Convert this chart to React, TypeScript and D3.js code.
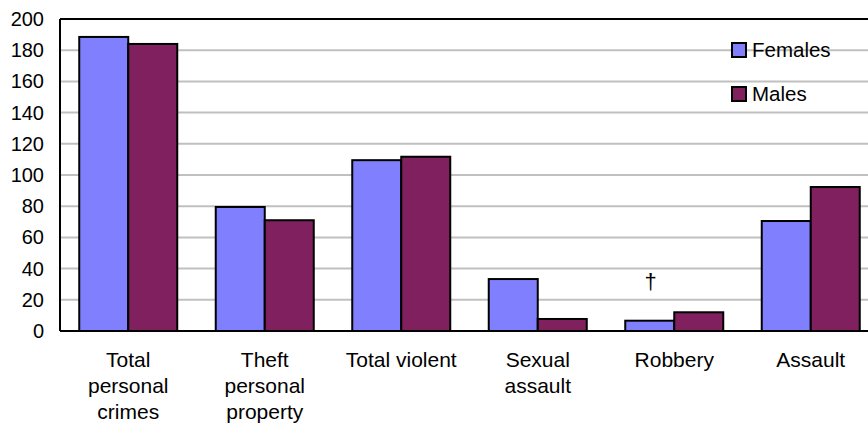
import { useEffect, useRef } from 'react';
import * as d3 from 'd3';

const categories = [
  ['Total', 'personal', 'crimes'],
  ['Theft', 'personal', 'property'],
  ['Total violent'],
  ['Sexual', 'assault'],
  ['Robbery'],
  ['Assault'],
];
const females = [188.5, 79.5, 109.5, 33.3, 6.6, 70.5];
const males = [184, 71, 111.7, 7.7, 12, 92.3];
const seriesNames = ['Females', 'Males'];
const colors = ['#8080FF', '#80205F'];
const yTicks = [0, 20, 40, 60, 80, 100, 120, 140, 160, 180, 200];

export default function App() {
  const svgRef = useRef<SVGSVGElement>(null);

  useEffect(() => {
    if (!svgRef.current) return;
    const svg = d3.select(svgRef.current);
    svg.selectAll('*').remove();

    const left = 60, top = 19, bottom = 331, right = 879;
    const font = 'Liberation Sans, Arial, Helvetica, sans-serif';

    const x = d3.scaleBand<number>()
      .domain(d3.range(categories.length))
      .range([left, right])
      .paddingInner(0.282)
      .paddingOuter(0.141);
    const y = d3.scaleLinear().domain([0, 200]).range([bottom, top]);

    // gridlines
    svg.append('g')
      .selectAll('line')
      .data(yTicks.filter(t => t > 0 && t < 200))
      .join('line')
      .attr('x1', left).attr('x2', 868)
      .attr('y1', d => y(d)).attr('y2', d => y(d))
      .attr('stroke', '#c0c0c0')
      .attr('stroke-width', 2);

    // bars
    const groups = svg.append('g')
      .selectAll('g')
      .data(categories.map((_, i) => i))
      .join('g');
    const bw = x.bandwidth() / 2;
    [females, males].forEach((vals, s) => {
      groups.append('rect')
        .attr('x', i => (x(i) as number) + s * bw)
        .attr('y', i => y(vals[i]))
        .attr('width', bw)
        .attr('height', i => y(0) - y(vals[i]))
        .attr('fill', colors[s])
        .attr('stroke', '#000')
        .attr('stroke-width', 2);
    });

    // plot frame
    svg.append('line').attr('x1', left).attr('x2', 868).attr('y1', top).attr('y2', top)
      .attr('stroke', '#000').attr('stroke-width', 2);
    svg.append('line').attr('x1', left).attr('x2', left).attr('y1', top).attr('y2', bottom)
      .attr('stroke', '#000').attr('stroke-width', 2);
    svg.append('line').attr('x1', left).attr('x2', 868).attr('y1', bottom).attr('y2', bottom)
      .attr('stroke', '#000').attr('stroke-width', 2);

    // y tick labels
    svg.append('g')
      .selectAll('text')
      .data(yTicks)
      .join('text')
      .attr('x', 44)
      .attr('y', d => y(d) + 7)
      .attr('text-anchor', 'end')
      .attr('font-family', font)
      .attr('font-size', 20)
      .attr('fill', '#000')
      .text(d => d);

    // x labels
    const xl = svg.append('g');
    categories.forEach((lines, i) => {
      const cx = (x(i) as number) + x.bandwidth() / 2;
      const t = xl.append('text')
        .attr('text-anchor', 'middle')
        .attr('font-family', font)
        .attr('font-size', 21)
        .attr('fill', '#000');
      lines.forEach((ln, j) => {
        t.append('tspan')
          .attr('x', cx)
          .attr('y', 367 + j * 26)
          .text(ln);
      });
    });

    // dagger above robbery
    svg.append('text')
      .attr('x', (x(4) as number) + bw / 2 + 1)
      .attr('y', 289)
      .attr('text-anchor', 'middle')
      .attr('font-family', font)
      .attr('font-size', 22)
      .text('†');

    // legend
    const lg = svg.append('g');
    seriesNames.forEach((name, s) => {
      const yy = 43 + s * 44;
      lg.append('rect')
        .attr('x', 732).attr('y', yy)
        .attr('width', 14).attr('height', 14)
        .attr('fill', colors[s])
        .attr('stroke', '#000')
        .attr('stroke-width', 2);
      lg.append('text')
        .attr('x', 752).attr('y', yy + 14)
        .attr('font-family', font)
        .attr('font-size', 20.5)
        .text(name);
    });
  }, []);

  return (
    <svg ref={svgRef} width={868} height={428}
      style={{ position: 'absolute', left: 0, top: 0, background: '#fff' }} />
  );
}
